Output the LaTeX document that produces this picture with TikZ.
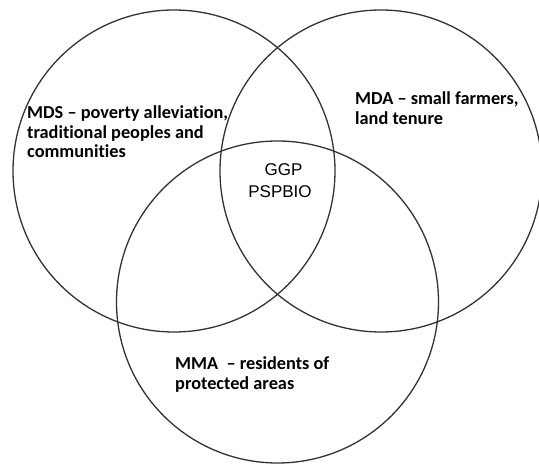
\documentclass[tikz,border=0pt]{standalone}
\usepackage{fontspec}
\setmainfont{Carlito}[Ligatures=NoCommon]
\newfontfamily\arialfont{Liberation Sans}
\begin{document}
\begin{tikzpicture}[x=1pt,y=-1pt,
  setring/.style={draw=black!80,line width=1.3pt},
  setlabel/.style={inner sep=0pt,anchor=base west,text=black,
    font=\fontsize{18.3}{19.5}\selectfont\bfseries},
  corelabel/.style={inner sep=0pt,anchor=base,text=black,align=center,
    font=\arialfont\fontsize{17}{22}\selectfont}]
  \useasboundingbox (0,0) rectangle (539,465);
  \clip (0,0) rectangle (539,465);
  \fill[white] (0,0) rectangle (539,465);

  % the three overlapping sets
  \node[setring,circle,minimum size=322pt,inner sep=0pt] (mds) at (174,171) {};
  \node[setring,circle,minimum size=322pt,inner sep=0pt] (mda) at (381,171) {};
  \node[setring,circle,minimum size=322pt,inner sep=0pt] (mma) at (277.5,302) {};

  % set labels
  \node[setlabel] (mdstext) at (27,119)
    {\begin{tabular}[t]{@{}l@{}}MDS -- poverty alleviation,\\ traditional peoples and\\ communities\end{tabular}};
  \node[setlabel] (mdatext) at (355,105)
    {\begin{tabular}[t]{@{}l@{}}MDA -- small farmers,\\ land tenure\end{tabular}};
  \node[setlabel] (mmatext) at (175,370)
    {\begin{tabular}[t]{@{}l@{}}MMA \ -- residents of\\ protected areas\end{tabular}};

  % common core
  \node[corelabel] (core) at (280,198) {\hspace*{7pt}GGP\\PSPBIO};
\end{tikzpicture}
\end{document}
